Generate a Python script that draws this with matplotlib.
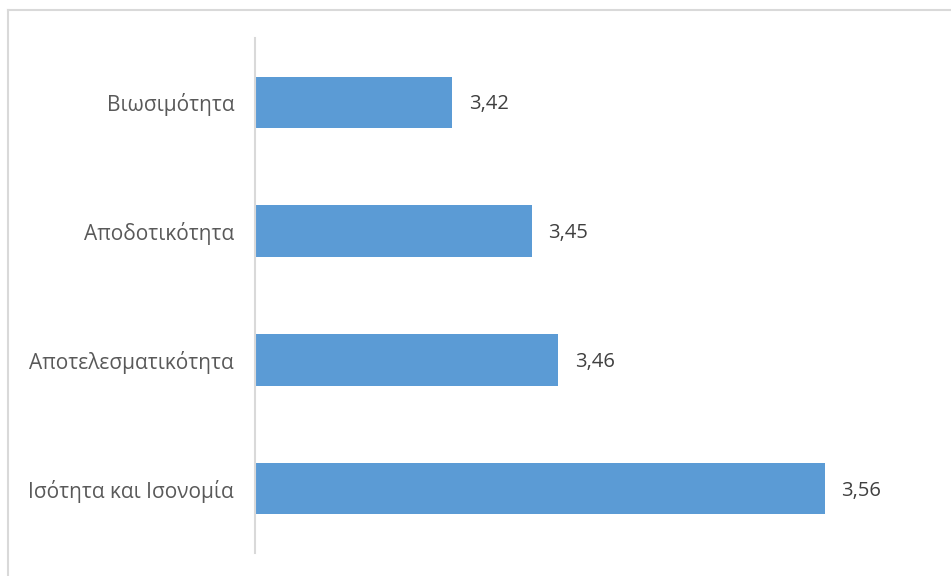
import matplotlib.pyplot as plt
from matplotlib.lines import Line2D

categories = ['Βιωσιμότητα', 'Αποδοτικότητα', 'Αποτελεσματικότητα', 'Ισότητα και Ισονομία']
values = [3.42, 3.45, 3.46, 3.56]
value_labels = ['3,42', '3,45', '3,46', '3,56']

plt.rcParams['font.family'] = ['Open Sans', 'DejaVu Sans']

fig = plt.figure(figsize=(9.51, 5.76), dpi=100)
ax = fig.add_axes([255 / 951, 1 - 553 / 576, (931 - 255) / 951, (553 - 38) / 576])

ypos = list(range(len(categories)))
ax.barh(ypos, values, height=0.4, color='#5B9BD5', left=0)
ax.set_xlim(3.346, 3.60)
ax.set_ylim(len(categories) - 0.5, -0.5)

ax.set_yticks(ypos)
ax.set_yticklabels(categories, fontsize=15, color='#595959')
ax.tick_params(axis='y', length=0, pad=15)
ax.set_xticks([])

for s in ['top', 'right', 'bottom']:
    ax.spines[s].set_visible(False)
ax.spines['left'].set_color('#D9D9D9')
ax.spines['left'].set_linewidth(1.5)

# value labels, offset ~17 px past the bar end
for y, v, lab in zip(ypos, values, value_labels):
    ax.annotate(lab, (v, y), xytext=(12, -1.5), textcoords='offset points',
                va='center', ha='left', fontsize=14.5, color='#404040')

# chart frame (top and left edges)
fig.add_artist(Line2D([8 / 951, 8 / 951], [0, 1 - 10 / 576], transform=fig.transFigure,
                      color='#D9D9D9', lw=1.5))
fig.add_artist(Line2D([8 / 951, 1], [1 - 10 / 576, 1 - 10 / 576], transform=fig.transFigure,
                      color='#D9D9D9', lw=1.5))

fig.savefig('out.png', dpi=100)
